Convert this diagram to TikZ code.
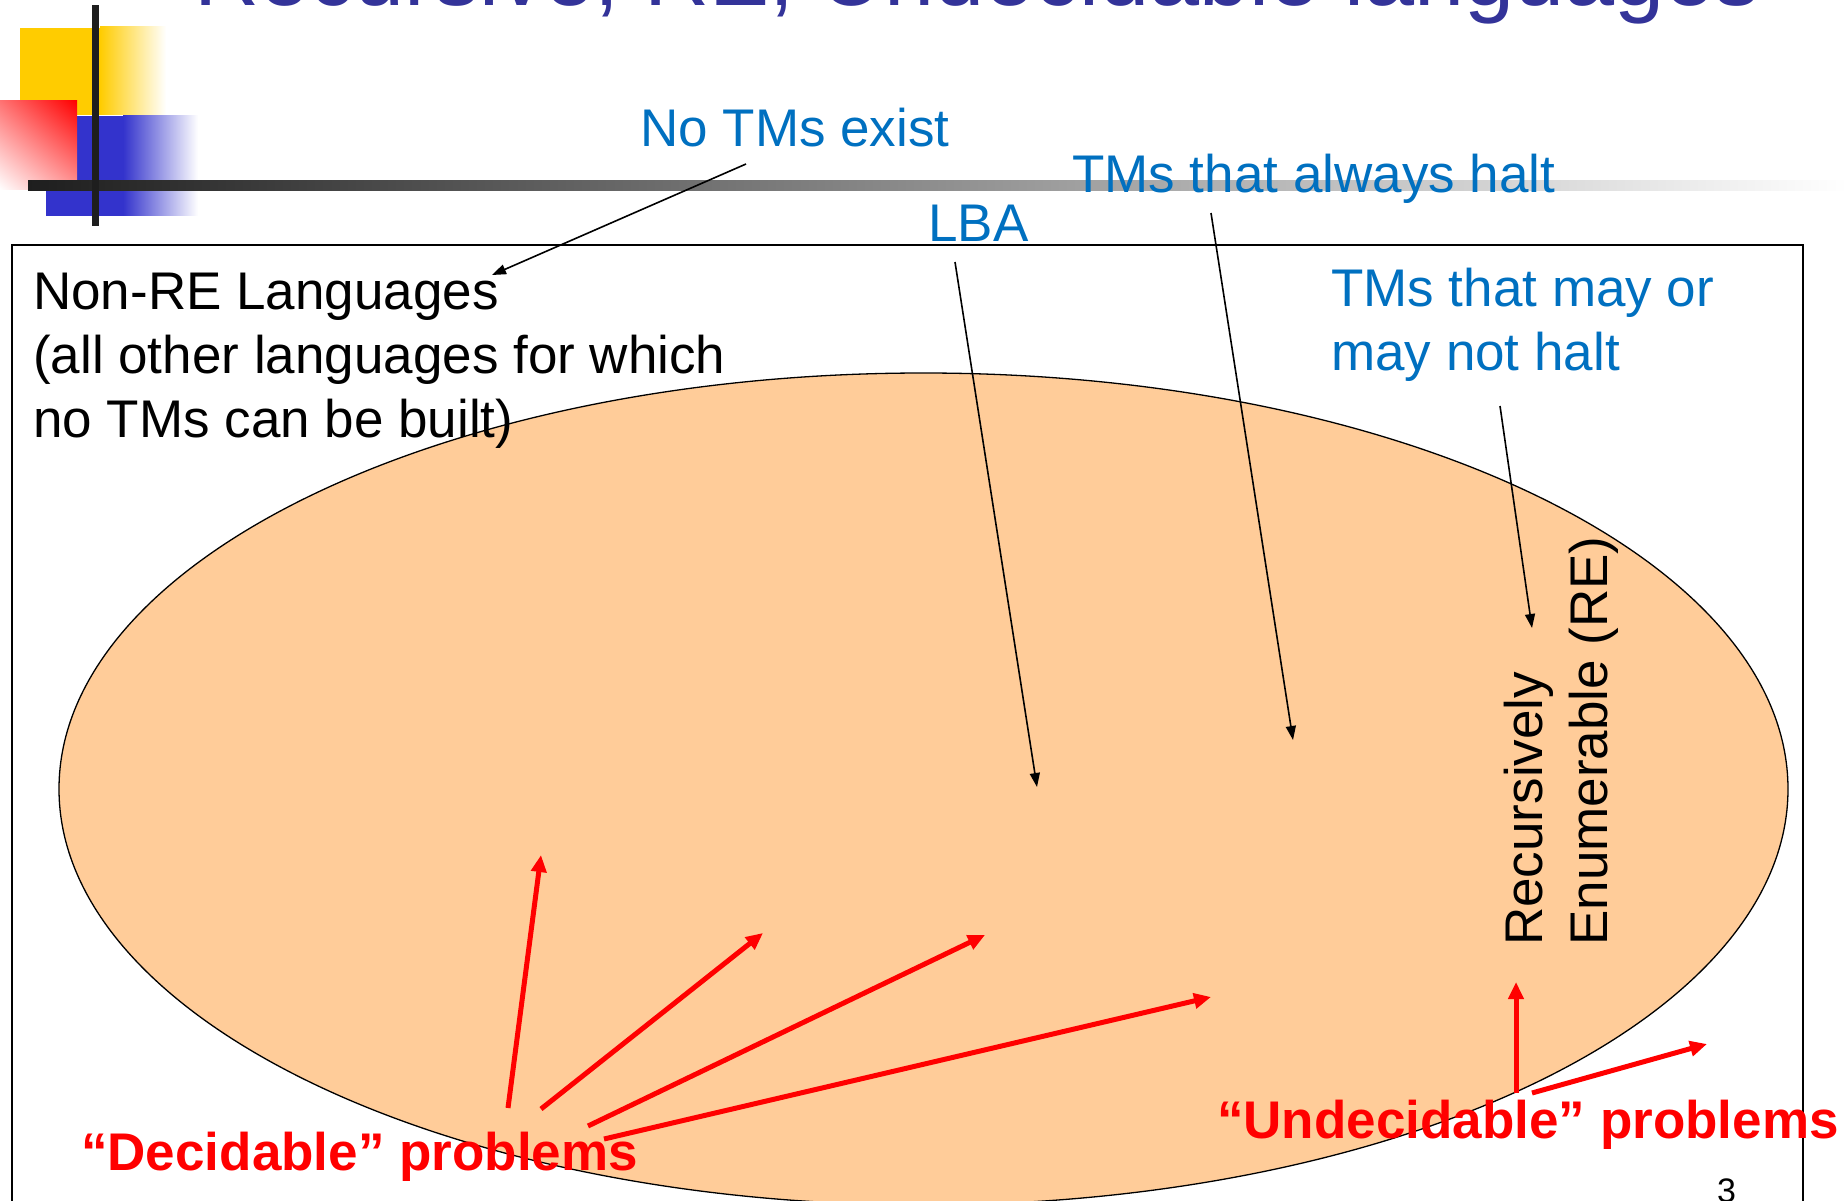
\documentclass[tikz,border=0pt]{standalone}
\usepackage{fontspec}
\setmainfont{Liberation Sans}
\usetikzlibrary{arrows.meta,shadings}
\definecolor{peach}{HTML}{FFCC99}
\definecolor{tmblue}{HTML}{0070C0}
\definecolor{titleblue}{HTML}{333399}
\definecolor{logoyellow}{HTML}{FFCC00}
\definecolor{logoblue}{HTML}{3333CC}
\definecolor{barblack}{HTML}{1E1E1E}
\tikzset{
  lbl/.style={inner sep=0pt, anchor=base west, font=\fontsize{53}{64}\selectfont},
  bluelbl/.style={lbl, text=tmblue},
  redlbl/.style={lbl, text=red, font=\fontsize{53}{64}\selectfont\bfseries},
  blkarrow/.style={draw=black, line width=1.6pt, -{Triangle[length=14pt,width=10pt]}},
  redarrow/.style={draw=red, line width=5pt, -{Triangle[length=17pt,width=15pt]}},
}
\begin{document}
\begin{tikzpicture}[x=1pt,y=-1pt]
\useasboundingbox (0,0) rectangle (1847,1201);
\clip (0,0) rectangle (1847,1201);
\fill[white] (0,0) rectangle (1847,1201);
% title (cut off at top)
\node[inner sep=0pt, anchor=base west, text=titleblue, font=\fontsize{90}{100}\selectfont] (title) at (194,6) {Recursive, RE, Undecidable languages};
% logo
\fill[logoyellow] (20,28) rectangle (100,115);
\shade[left color=logoyellow, right color=white] (100,27) rectangle (166,115);
\fill[logoblue] (46,116) rectangle (123,216);
\shade[left color=logoblue, right color=white] (123,116) rectangle (198,216);
\shade[upper right=red, upper left=red!55, lower right=red!40, lower left=white] (0,101) rectangle (77,190);
\shade[left color=barblack, middle color=black!30, right color=white] (28,181) rectangle (1847,191);
\fill[barblack] (92,5) rectangle (99,226);
% frame and RE ellipse
\draw[line width=1.5pt] (12,245) rectangle (1803,1230);
\draw[fill=peach, line width=1.3pt] (923.5,789) ellipse [x radius=864.5, y radius=416];
% labels
\node[bluelbl] (notms) at (640,147) {No TMs exist};
\node[bluelbl] (halt) at (1072,193) {TMs that always halt};
\node[bluelbl] (lba) at (928,241) {LBA};
\node[bluelbl] (maybe) at (1331,306) {\vtop{\hbox{TMs that may or}\hbox{may not halt}}};
\node[lbl] (nonre) at (33,309) {\vtop{\hbox{Non-RE Languages}\hbox{(all other languages for which}\hbox{no TMs can be built)}}};
\node[lbl, rotate=90] (rec1) at (1542,946) {Recursively};
\node[lbl, rotate=90] (rec2) at (1607,946) {Enumerable (RE)};
\node[redlbl] (dec) at (81,1170) {“Decidable” problems};
\node[redlbl] (undec) at (1217,1138) {“Undecidable” problems};
\node[lbl, font=\fontsize{34}{40}\selectfont] (pg) at (1717,1202) {3};
% black arrows
\coordinate (notmsS) at (746,164); \coordinate (nonreT) at (492,275);
\coordinate (lbaS) at (955,262); \coordinate (lbaT) at (1037,787);
\coordinate (haltS) at (1211,213); \coordinate (haltT) at (1293,740);
\coordinate (maybeS) at (1500,406); \coordinate (maybeT) at (1532,628);
\draw[blkarrow] (notmsS) -- (nonreT);
\draw[blkarrow] (lbaS) -- (lbaT);
\draw[blkarrow] (haltS) -- (haltT);
\draw[blkarrow] (maybeS) -- (maybeT);
% red arrows
\coordinate (d0) at (508,1108); \coordinate (d0t) at (541,855);
\coordinate (d1) at (541,1109); \coordinate (d1t) at (763,933);
\coordinate (d2) at (588,1126); \coordinate (d2t) at (985,935);
\coordinate (d3) at (604,1139); \coordinate (d3t) at (1211,997);
\coordinate (u0) at (1516,1093); \coordinate (u0t) at (1516,982);
\coordinate (u1) at (1532,1093); \coordinate (u1t) at (1707,1044);
\draw[redarrow] (d0) -- (d0t);
\draw[redarrow] (d1) -- (d1t);
\draw[redarrow] (d2) -- (d2t);
\draw[redarrow] (d3) -- (d3t);
\draw[redarrow] (u0) -- (u0t);
\draw[redarrow] (u1) -- (u1t);
\end{tikzpicture}
\end{document}
